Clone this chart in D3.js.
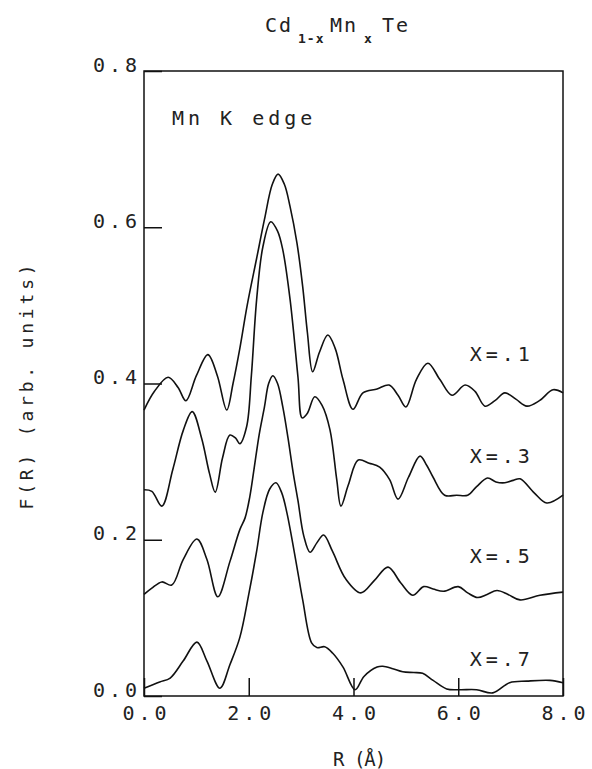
<!DOCTYPE html>
<html>
<head>
<meta charset="utf-8">
<script src="https://cdn.jsdelivr.net/npm/d3@7"></script>
<style>
  html, body { margin: 0; padding: 0; background: #fff; }
  svg { display: block; }
  text { font-family: "DejaVu Sans Mono", monospace; fill: #222; }
</style>
</head>
<body>
<script>
// ---- data ----
const xTicks = [0, 2, 4, 6, 8];
const xTickLabels = ["0.0", "2.0", "4.0", "6.0", "8.0"];
const yTicks = [0, 0.2, 0.4, 0.6, 0.8];
const yTickLabels = ["0.0", "0.2", "0.4", "0.6", "0.8"];
const seriesNames = ["X=.1", "X=.3", "X=.5", "X=.7"];

const rX1 = [0, 0.2, 0.46, 0.65, 0.8, 1.0, 1.22, 1.4, 1.58, 1.7, 1.83, 1.97, 2.15, 2.3, 2.45, 2.56, 2.68, 2.79, 2.92, 3.03, 3.12, 3.22, 3.35, 3.51, 3.65, 3.8, 3.99, 4.18, 4.45, 4.68, 4.85, 5.0, 5.2, 5.42, 5.65, 5.88, 6.13, 6.32, 6.51, 6.7, 6.89, 7.1, 7.31, 7.55, 7.81, 8.0];
const fX1 = [0.366, 0.39, 0.408, 0.395, 0.378, 0.41, 0.437, 0.41, 0.366, 0.40, 0.445, 0.50, 0.56, 0.61, 0.655, 0.668, 0.655, 0.626, 0.58, 0.524, 0.465, 0.415, 0.44, 0.462, 0.445, 0.405, 0.367, 0.388, 0.393, 0.398, 0.385, 0.370, 0.405, 0.426, 0.405, 0.385, 0.398, 0.39, 0.371, 0.378, 0.388, 0.38, 0.371, 0.378, 0.392, 0.388];

const rX3 = [0, 0.15, 0.34, 0.55, 0.75, 0.92, 1.1, 1.25, 1.36, 1.5, 1.64, 1.75, 1.83, 1.96, 2.05, 2.15, 2.27, 2.42, 2.55, 2.65, 2.79, 2.94, 3.02, 3.12, 3.26, 3.4, 3.55, 3.68, 3.76, 3.9, 4.09, 4.3, 4.5, 4.69, 4.85, 5.05, 5.27, 5.4, 5.52, 5.74, 5.97, 6.18, 6.35, 6.56, 6.72, 6.89, 7.05, 7.18, 7.45, 7.69, 8.0];
const fX3 = [0.264, 0.262, 0.243, 0.29, 0.34, 0.364, 0.33, 0.285, 0.261, 0.305, 0.334, 0.33, 0.323, 0.345, 0.41, 0.507, 0.575, 0.607, 0.595, 0.571, 0.507, 0.408, 0.356, 0.362, 0.383, 0.372, 0.341, 0.277, 0.243, 0.27, 0.302, 0.298, 0.293, 0.277, 0.252, 0.28, 0.307, 0.295, 0.28, 0.257, 0.257, 0.257, 0.268, 0.279, 0.274, 0.273, 0.276, 0.278, 0.26, 0.247, 0.257];

const rX5 = [0, 0.15, 0.34, 0.53, 0.75, 1.01, 1.2, 1.41, 1.64, 1.83, 1.93, 2.02, 2.1, 2.2, 2.3, 2.38, 2.46, 2.55, 2.65, 2.75, 2.85, 2.94, 3.05, 3.17, 3.3, 3.43, 3.6, 3.85, 4.14, 4.4, 4.66, 4.9, 5.13, 5.34, 5.52, 5.72, 6.0, 6.18, 6.37, 6.55, 6.74, 6.95, 7.18, 7.56, 8.0];
const fX5 = [0.13, 0.138, 0.146, 0.142, 0.175, 0.201, 0.175, 0.127, 0.172, 0.213, 0.228, 0.255, 0.29, 0.335, 0.37, 0.40, 0.41, 0.40, 0.37, 0.33, 0.285, 0.25, 0.205, 0.184, 0.196, 0.206, 0.185, 0.15, 0.132, 0.148, 0.165, 0.145, 0.129, 0.14, 0.137, 0.134, 0.14, 0.132, 0.126, 0.13, 0.135, 0.13, 0.123, 0.129, 0.133];

const rX7 = [0, 0.3, 0.5, 0.75, 1.01, 1.2, 1.45, 1.64, 1.83, 2.0, 2.15, 2.27, 2.4, 2.52, 2.63, 2.73, 2.92, 3.03, 3.2, 3.3, 3.45, 3.6, 3.8, 4.03, 4.2, 4.45, 4.56, 4.75, 4.94, 5.15, 5.32, 5.52, 5.78, 6.03, 6.35, 6.66, 6.98, 7.31, 7.75, 8.0];
const fX7 = [0.01, 0.018, 0.023, 0.045, 0.069, 0.045, 0.01, 0.04, 0.075, 0.13, 0.185, 0.235, 0.265, 0.273, 0.26, 0.234, 0.165, 0.123, 0.068, 0.062, 0.063, 0.055, 0.037, 0.008, 0.025, 0.037, 0.038, 0.035, 0.031, 0.03, 0.029, 0.02, 0.009, 0.008, 0.008, 0.004, 0.017, 0.019, 0.02, 0.017];

const series = [
  { name: seriesNames[0], r: rX1, f: fX1 },
  { name: seriesNames[1], r: rX3, f: fX3 },
  { name: seriesNames[2], r: rX5, f: fX5 },
  { name: seriesNames[3], r: rX7, f: fX7 }
];
// label anchor (R, F) for each series name
const labelR = [6.2, 6.2, 6.2, 6.2];
const labelF = [0.429, 0.298, 0.170, 0.038];

// ---- layout ----
const W = 592, H = 769;
const L = 144, R = 563, T = 71, B = 696;

const svg = d3.select("body").append("svg").attr("width", W).attr("height", H);

const x = d3.scaleLinear().domain([0, 8]).range([L, R]);
const y = d3.scaleLinear().domain([0, 0.8]).range([B, T]);

// frame
svg.append("rect")
  .attr("x", L).attr("y", T).attr("width", R - L).attr("height", B - T)
  .attr("fill", "none").attr("stroke", "#111").attr("stroke-width", 1.5);

// axes
const yAxis = d3.axisLeft(y).tickValues(yTicks)
  .tickFormat((d, i) => yTickLabels[i]).tickSize(-18).tickPadding(3);
const gy = svg.append("g").attr("transform", `translate(${L},0)`).call(yAxis);
gy.select(".domain").remove();
gy.selectAll(".tick line").attr("stroke", "#111").attr("stroke-width", 1.5);
gy.selectAll(".tick text")
  .attr("dy", "0").attr("dx", "0")
  .style("font-size", "20px").style("letter-spacing", "4px")
  .attr("fill", "#222");

const xAxis = d3.axisBottom(x).tickValues(xTicks)
  .tickFormat((d, i) => xTickLabels[i]).tickSize(-18).tickPadding(0);
const gx = svg.append("g").attr("transform", `translate(0,${B})`).call(xAxis);
gx.select(".domain").remove();
gx.selectAll(".tick line").attr("stroke", "#111").attr("stroke-width", 1.5);
gx.selectAll(".tick text")
  .attr("y", 24).attr("dy", "0").attr("dx", "2")
  .style("font-size", "20px").style("letter-spacing", "4px")
  .attr("fill", "#222");

// curves
const line = d3.line()
  .x(d => x(d[0])).y(d => y(d[1]))
  .curve(d3.curveCatmullRom.alpha(0.5));

svg.append("g").selectAll("path")
  .data(series)
  .join("path")
  .attr("d", s => line(s.r.map((r, i) => [r, s.f[i]])))
  .attr("fill", "none")
  .attr("stroke", "#111")
  .attr("stroke-width", 1.6)
  .attr("stroke-linejoin", "round");

// series labels
svg.append("g").selectAll("text")
  .data(series)
  .join("text")
  .attr("x", (s, i) => x(labelR[i]) + 1)
  .attr("y", (s, i) => y(labelF[i]))
  .style("font-size", "20px").style("letter-spacing", "4px")
  .text(s => s.name);

// inset label
svg.append("text")
  .attr("x", 172).attr("y", 125)
  .style("font-size", "20px").style("letter-spacing", "4px")
  .text("Mn K edge");

// title
const title = svg.append("g");
title.append("text").attr("x", 265).attr("y", 32).style("font-size", "20px").style("letter-spacing", "2px").text("Cd");
title.append("text").attr("x", 298).attr("y", 43).style("font-size", "13px").style("font-weight", "bold").style("letter-spacing", "1px").text("1-x");
title.append("text").attr("x", 330).attr("y", 32).style("font-size", "20px").style("letter-spacing", "2px").text("Mn");
title.append("text").attr("x", 364).attr("y", 43).style("font-size", "13px").style("font-weight", "bold").text("x");
title.append("text").attr("x", 382).attr("y", 32).style("font-size", "20px").style("letter-spacing", "2px").text("Te");

// x axis title
svg.append("text")
  .attr("x", 333).attr("y", 766)
  .style("font-size", "19px").style("letter-spacing", "-1px")
  .text("R (Å)");

// y axis title
svg.append("text")
  .attr("transform", "translate(33,385) rotate(-90)")
  .attr("text-anchor", "middle")
  .style("font-size", "18px").style("letter-spacing", "3.8px")
  .text("F(R) (arb. units)");
</script>
</body>
</html>
